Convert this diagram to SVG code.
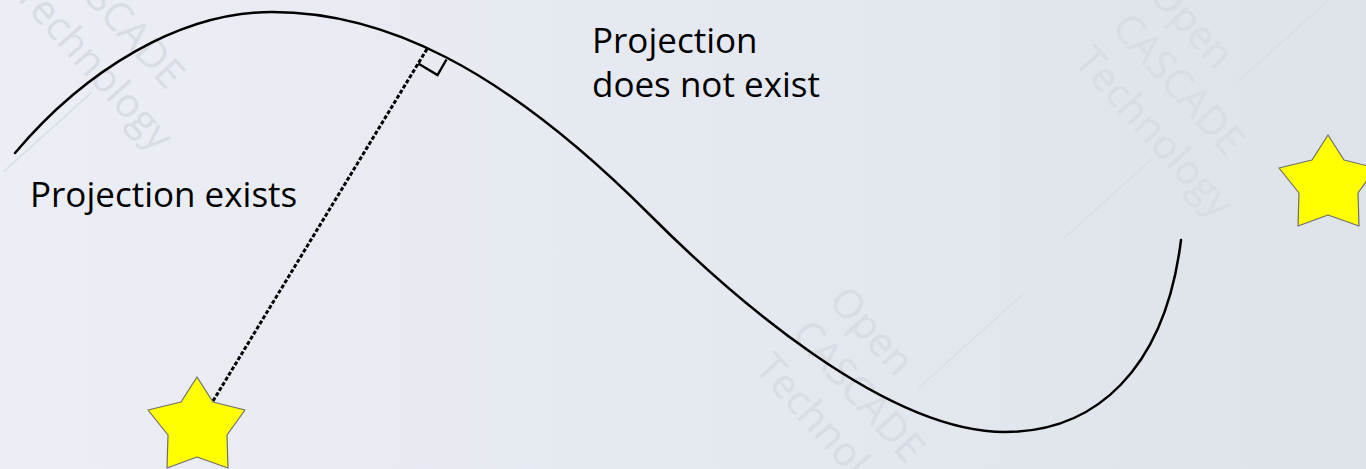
<svg xmlns="http://www.w3.org/2000/svg" width="1366" height="469" viewBox="0 0 1366 469">
  <defs>
    <linearGradient id="bg" x1="0" y1="0" x2="1" y2="0">
      <stop offset="0" stop-color="#eceef6"/>
      <stop offset="1" stop-color="#dee3ea"/>
    </linearGradient>
    <style>
      .wm { font-family: "Open Sans", "Noto Sans", sans-serif; font-size: 40px; fill: #d8dce4; }
      .wml { stroke: #d9dde5; stroke-width: 1.5; fill: none; }
      .curve { fill: none; stroke: #000; stroke-width: 2.5; stroke-linecap: round; }
      .proj { fill: none; stroke: #000; stroke-width: 3; stroke-dasharray: 4 2; }
      .mark { fill: none; stroke: #000; stroke-width: 2.4; stroke-linejoin: miter; }
      .star { fill: #ffff00; stroke: #6e6e6e; stroke-width: 1.2; stroke-linejoin: round; }
      .lbl { font-family: "Open Sans", "Noto Sans", sans-serif; font-size: 35px; fill: #000; }
    </style>
  </defs>

  <rect x="0" y="0" width="1366" height="469" fill="url(#bg)"/>

  <g id="watermarks">
    <g transform="translate(13,-5) rotate(48)">
      <line class="wml" x1="125" y1="6" x2="125" y2="125"/>
      <text class="wm" x="0" y="-50">CASCADE</text>
      <text class="wm" x="0" y="0">Technology</text>
    </g>
    <g transform="translate(1073,62) rotate(48)">
      <line class="wml" x1="125" y1="6" x2="125" y2="125"/>
      <line class="wml" x1="125" y1="-111" x2="125" y2="-251"/>
      <text class="wm" x="0" y="-100">Open</text>
      <text class="wm" x="0" y="-50">CASCADE</text>
      <text class="wm" x="0" y="0">Technology</text>
    </g>
    <g transform="translate(753,369) rotate(48)">
      <line class="wml" x1="125" y1="-111" x2="125" y2="-251"/>
      <text class="wm" x="0" y="-100">Open</text>
      <text class="wm" x="0" y="-50">CASCADE</text>
      <text class="wm" x="0" y="0">Technology</text>
    </g>
  </g>

  <g id="curve">
    <path class="curve" d="M15,153 C85,70 180,12 272,12 C382,12 500,65 650,215 C730,295 885,432 1005,432 C1095,432 1165,370 1181,240"/>
  </g>

  <g id="connectors">
    <line class="proj" x1="213" y1="401" x2="427" y2="49"/>
    <polyline class="mark" points="418.2,63.5 437.5,75 446.5,59.5"/>
  </g>

  <g id="star-projection-exists">
    <polygon class="star" points="197,377 213,402 245,410 227,435 228,468 197,457 167,468 168,435 148,410 181,402"/>
  </g>

  <g id="star-projection-not-exists">
    <polygon class="star" points="1328,135 1344,160 1376,168 1358,193 1359,226 1328,215 1298,226 1299,193 1279,168 1312,160"/>
  </g>

  <g id="label-exists">
    <text class="lbl" x="30" y="207">Projection exists</text>
  </g>

  <g id="label-not-exists">
    <text class="lbl" x="592" y="53">Projection</text>
    <text class="lbl" x="592" y="97">does not exist</text>
  </g>
</svg>
